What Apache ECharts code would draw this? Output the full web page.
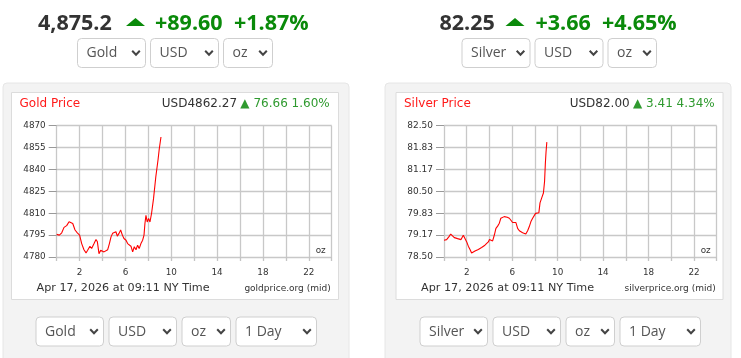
<!DOCTYPE html>
<html>
<head>
<meta charset="utf-8">
<script src="https://cdn.jsdelivr.net/npm/echarts@6/dist/echarts.min.js"></script>
<style>
html,body{margin:0;padding:0;background:#fff;}
#c{width:741px;height:358px;}
</style>
</head>
<body>
<div id="c"></div>
<script>
// ---- data ----
var hourTicks = [2, 6, 10, 14, 18, 22];

var goldHours = [0, 0.23, 0.44, 0.64, 0.87, 1.08, 1.25, 1.4, 1.6, 1.8, 2.0, 2.18, 2.38, 2.56, 2.7, 2.9, 3.05, 3.26, 3.43, 3.55, 3.69, 3.84, 3.98, 4.13, 4.3, 4.45, 4.6, 4.74, 4.88, 5.03, 5.17, 5.29, 5.44, 5.58, 5.73, 5.87, 6.05, 6.19, 6.34, 6.48, 6.63, 6.77, 6.92, 7.06, 7.2, 7.35, 7.5, 7.62, 7.7, 7.79, 7.9, 8.02, 8.14, 8.28, 8.45, 8.65, 8.85, 8.95, 9.1];
var goldPrices = [4795.5, 4795, 4796.6, 4800.3, 4801.5, 4804.2, 4804.7, 4803, 4798.5, 4796.6, 4795, 4789.2, 4785, 4782.8, 4784.6, 4787.4, 4785.8, 4789.2, 4792, 4790.4, 4782.3, 4784.6, 4785.8, 4783.5, 4784.2, 4785, 4789.2, 4793.8, 4796.2, 4795.7, 4797.3, 4794.3, 4796.2, 4798.5, 4795, 4792.7, 4791.5, 4789.2, 4790.4, 4787.4, 4783.5, 4787, 4785, 4788.1, 4785.8, 4789.2, 4791.5, 4795, 4803, 4808.5, 4804, 4806.5, 4804, 4810, 4820, 4835, 4847, 4854, 4862.27];

var silverHours = [0, 0.23, 0.44, 0.59, 0.76, 0.91, 1.06, 1.2, 1.35, 1.5, 1.7, 1.85, 2.0, 2.14, 2.29, 2.43, 2.58, 2.73, 2.87, 3.02, 3.17, 3.31, 3.46, 3.6, 3.75, 3.9, 4.0, 4.1, 4.28, 4.43, 4.57, 4.72, 4.87, 5.0, 5.16, 5.3, 5.45, 5.57, 5.75, 5.9, 6.04, 6.19, 6.33, 6.48, 6.63, 6.77, 6.92, 7.07, 7.2, 7.36, 7.5, 7.65, 7.8, 7.92, 8.06, 8.2, 8.35, 8.45, 8.6, 8.75, 8.85, 8.92, 8.98, 9.05];
var silverPrices = [79.01, 79.03, 79.12, 79.2, 79.16, 79.09, 79.14, 79.06, 79.12, 79.03, 79.16, 79.14, 78.96, 78.83, 78.73, 78.62, 78.65, 78.68, 78.65, 78.73, 78.7, 78.79, 78.83, 78.86, 78.91, 78.96, 79.03, 78.99, 78.99, 79.17, 79.37, 79.44, 79.53, 79.68, 79.63, 79.73, 79.78, 79.71, 79.68, 79.63, 79.55, 79.5, 79.55, 79.37, 79.3, 79.27, 79.24, 79.19, 79.2, 79.3, 79.42, 79.58, 79.68, 79.73, 79.83, 79.88, 79.85, 80.15, 80.3, 80.45, 80.8, 81.35, 81.7, 82.0];

var goldAxis = {min: 4780, max: 4870, step: 15};
var silverAxis = {min: 78.5, max: 82.5, step: 4 / 6};

// ---- build ----
function zip(a, b) { return a.map(function (v, i) { return [v, b[i]]; }); }

var GREEN = '#0a8a0a', LGREEN = '#2f9a2f', RED = '#ff1a1a', DARK = '#333';
var CHART_FONT = 'DejaVu Sans', UI_FONT = 'Open Sans';

var graphics = [];
function rect(x, y, w, h, fill, stroke, r) {
  graphics.push({type: 'rect', silent: true, z: -10, shape: {x: x, y: y, width: w, height: h, r: r || 0},
    style: {fill: fill, stroke: stroke || null, lineWidth: 1}});
}
function text(x, y, str, opt) {
  graphics.push({type: 'text', silent: true, z: 10, x: x, y: y,
    style: Object.assign({text: str, textVerticalAlign: 'middle', textAlign: 'left', fill: DARK,
      fontFamily: CHART_FONT, fontSize: 11}, opt || {})});
}
function select(x, y, w, h, label) {
  graphics.push({type: 'rect', silent: true, z: 5, shape: {x: x + 0.5, y: y + 0.5, width: w, height: h, r: 4},
    style: {fill: '#fff', stroke: '#cfcfcf', lineWidth: 1}});
  text(x + 9.5, y + h / 2 + 1, label, {fontFamily: UI_FONT, fontSize: 14, fill: '#555'});
  var cx = x + w - 9, cy = y + h / 2 + 0.5;
  graphics.push({type: 'polyline', silent: true, z: 10,
    shape: {points: [[cx - 3.8, cy - 2.2], [cx, cy + 1.8], [cx + 3.8, cy - 2.2]]},
    style: {stroke: '#444', lineWidth: 2, fill: null}});
}
function header(xs, price, chg, pct) {
  text(xs[0], 24, price, {fontFamily: UI_FONT, fontSize: 21.5, fontWeight: 'bold', fill: DARK});
  graphics.push({type: 'polygon', silent: true, z: 10,
    shape: {points: [[xs[1], 26], [xs[1] + 19, 26], [xs[1] + 9.5, 18]]}, style: {fill: GREEN}});
  text(xs[2], 24, chg, {fontFamily: UI_FONT, fontSize: 21.5, fontWeight: 'bold', fill: GREEN});
  text(xs[3], 24, pct, {fontFamily: UI_FONT, fontSize: 21.5, fontWeight: 'bold', fill: GREEN});
}
function panel(px, ix, iw, plotRight, title, quote, src) {
  rect(px, 83, 346, 290, '#f3f3f3', '#e6e6e6', 4);
  rect(ix + 0.5, 92.5, iw, 207, '#fff', '#dcdcdc', 0);
  text(ix + 8.5, 104, title, {fontSize: 12, fill: RED});
  graphics.push({type: 'text', silent: true, z: 10, x: plotRight - 2, y: 104,
    style: {rich: {a: {fill: DARK, fontSize: 12, fontFamily: CHART_FONT}, b: {fill: LGREEN, fontSize: 12, fontFamily: CHART_FONT}},
      text: '{a|' + quote[0] + '} {b|▲ ' + quote[1] + '}', textAlign: 'right', textVerticalAlign: 'middle'}});
  text(plotRight - 6, 250.5, 'oz', {fontSize: 8.8, textAlign: 'right'});
  text(ix + 25.5, 288.5, 'Apr 17, 2026 at 09:11 NY Time', {fontSize: 11.2});
  text(plotRight - 1, 289, src, {fontSize: 9, textAlign: 'right'});
}

// gold
header([38, 126, 155, 234], '4,875.2', '+89.60', '+1.87%');
select(77, 38, 68, 29, 'Gold'); select(150, 38, 68, 29, 'USD'); select(223, 38, 49, 29, 'oz');
panel(3, 11, 327, 331.7, 'Gold Price', ['USD4862.27', '76.66 1.60%'], 'goldprice.org (mid)');
select(35.5, 316.5, 67.5, 29, 'Gold'); select(108.5, 316.5, 67.5, 29, 'USD'); select(181.5, 316.5, 48.5, 29, 'oz'); select(235.5, 316.5, 80.5, 29, '1 Day');
// silver
header([439.5, 505.5, 535.5, 602], '82.25', '+3.66', '+4.65%');
select(461.5, 38, 68, 29, 'Silver'); select(534.5, 38, 68, 29, 'USD'); select(607.5, 38, 48.5, 29, 'oz');
panel(385, 395.5, 327, 716.7, 'Silver Price', ['USD82.00', '3.41 4.34%'], 'silverprice.org (mid)');
select(419.5, 316.5, 67.5, 29, 'Silver'); select(492.5, 316.5, 67.5, 29, 'USD'); select(565.5, 316.5, 48.5, 29, 'oz'); select(619.5, 316.5, 80.5, 29, '1 Day');

function xAxisDef(gi) {
  return {gridIndex: gi, type: 'value', min: 0, max: 24, interval: 2,
    axisLine: {show: false},
    axisTick: {show: true, length: 4, lineStyle: {color: '#c4c4c4', width: 1.3}},
    splitLine: {show: true, lineStyle: {color: '#c8c8c8', width: 1.3}},
    axisLabel: {margin: 11, fontSize: 8.8, color: DARK, fontFamily: CHART_FONT,
      formatter: function (v) { return hourTicks.indexOf(Math.round(v)) >= 0 && Math.abs(v - Math.round(v)) < 1e-6 ? String(Math.round(v)) : ''; }}};
}
function yAxisDef(gi, ax, dec) {
  return {gridIndex: gi, type: 'value', min: ax.min, max: ax.max, interval: ax.step,
    axisLine: {show: false},
    axisTick: {show: true, length: 8, lineStyle: {color: '#999', width: 1}},
    splitLine: {show: true, lineStyle: {color: '#c8c8c8', width: 1.3}},
    axisLabel: {margin: 11, fontSize: dec ? 9 : 8.8, color: DARK, fontFamily: CHART_FONT,
      formatter: function (v) { return dec ? v.toFixed(2) : String(Math.round(v)); }}};
}

var chart = echarts.init(document.getElementById('c'), null, {renderer: 'canvas'});
chart.setOption({
  animation: false,
  backgroundColor: '#fff',
  grid: [
    {left: 56.7, top: 125.7, width: 275, height: 131.3},
    {left: 444, top: 125.7, width: 272.7, height: 131.3}
  ],
  xAxis: [xAxisDef(0), xAxisDef(1)],
  yAxis: [yAxisDef(0, goldAxis, false), yAxisDef(1, silverAxis, true)],
  series: [
    {type: 'line', xAxisIndex: 0, yAxisIndex: 0, data: zip(goldHours, goldPrices), showSymbol: false,
      lineStyle: {color: '#ff0000', width: 1.1}, z: 5},
    {type: 'line', xAxisIndex: 1, yAxisIndex: 1, data: zip(silverHours, silverPrices), showSymbol: false,
      lineStyle: {color: '#ff0000', width: 1.1}, z: 5}
  ],
  graphic: graphics
});
</script>
</body>
</html>
